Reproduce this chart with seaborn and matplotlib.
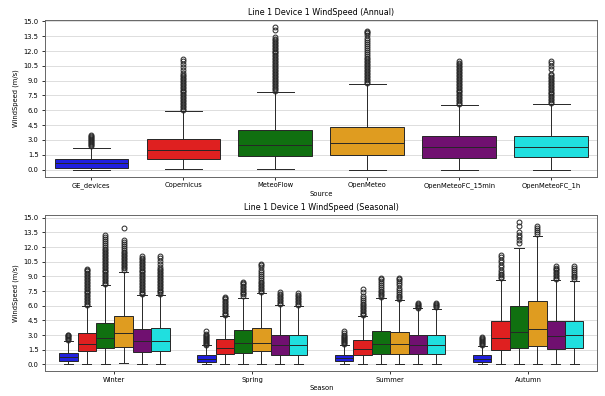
import matplotlib
matplotlib.use("Agg")
import matplotlib.pyplot as plt
import numpy as np
import pandas as pd
import seaborn as sns

SOURCES = ["GE_devices", "Copernicus", "MeteoFlow", "OpenMeteo",
           "OpenMeteoFC_15min", "OpenMeteoFC_1h"]
SEASONS = ["Winter", "Spring", "Summer", "Autumn"]
COLORS = ["blue", "red", "green", "orange", "purple", "cyan"]

# ---- Annual box statistics (m/s), one entry per source ----
annual_whislo = [0.0, 0.05, 0.05, 0.0, 0.0, 0.0]
annual_q1 = [0.2, 1.1, 1.4, 1.45, 1.2, 1.25]
annual_med = [0.68, 1.97, 2.48, 2.7, 2.25, 2.25]
annual_q3 = [1.05, 3.05, 4.0, 4.35, 3.35, 3.4]
annual_whishi = [2.2, 5.9, 7.88, 8.65, 6.55, 6.6]
annual_fliers = [
    [2.4, 2.5, 2.6, 2.7, 2.8, 2.9, 3.0, 3.1, 3.2, 3.3, 3.4, 3.5],
    [6.0, 6.15, 6.3, 6.45, 6.6, 6.75, 6.9, 7.05, 7.2, 7.35, 7.5, 7.65, 7.8,
     7.95, 8.1, 8.25, 8.4, 8.55, 8.7, 8.85, 9.0, 9.15, 9.3, 9.45, 9.6, 9.75,
     10.05, 10.4, 10.7, 10.95, 11.15],
    [8.0, 8.15, 8.3, 8.45, 8.6, 8.75, 8.9, 9.05, 9.2, 9.35, 9.5, 9.65, 9.8,
     9.95, 10.1, 10.25, 10.4, 10.55, 10.7, 10.85, 11.0, 11.15, 11.3, 11.45,
     11.6, 11.75, 11.9, 12.05, 12.2, 12.35, 12.5, 12.65, 12.8, 12.95, 13.1,
     13.25, 13.4, 14.15, 14.4],
    [8.75, 8.9, 9.05, 9.2, 9.35, 9.5, 9.65, 9.8, 9.95, 10.1, 10.25, 10.4,
     10.55, 10.7, 10.85, 11.0, 11.15, 11.3, 11.5, 11.7, 11.9, 12.1, 12.3,
     12.5, 12.7, 12.9, 13.1, 13.3, 13.6, 13.8, 13.95, 14.05],
    [6.6, 6.75, 6.9, 7.05, 7.2, 7.35, 7.5, 7.65, 7.8, 7.95, 8.1, 8.25, 8.4,
     8.55, 8.7, 8.85, 9.0, 9.15, 9.3, 9.45, 9.6, 9.75, 9.9, 10.05, 10.2,
     10.35, 10.5, 10.65, 10.8, 10.95],
    [6.7, 6.85, 7.0, 7.15, 7.3, 7.45, 7.6, 7.75, 7.9, 8.05, 8.2, 8.35, 8.5,
     8.65, 8.8, 8.95, 9.1, 9.25, 9.4, 9.55, 9.7, 10.2, 10.5, 10.8, 11.0],
]

# ---- Seasonal box statistics: rows = seasons, columns = sources ----
seasonal_whislo = [
    [0.0, 0.05, 0.05, 0.1, 0.0, 0.0],
    [0.0, 0.05, 0.05, 0.0, 0.0, 0.0],
    [0.0, 0.05, 0.05, 0.0, 0.0, 0.0],
    [0.0, 0.05, 0.05, 0.0, 0.0, 0.0],
]
seasonal_q1 = [
    [0.3, 1.4, 1.65, 1.75, 1.3, 1.35],
    [0.22, 1.02, 1.15, 1.32, 0.97, 1.0],
    [0.3, 0.92, 1.1, 1.1, 1.1, 1.1],
    [0.28, 1.48, 1.68, 1.92, 1.55, 1.62],
]
seasonal_med = [
    [0.71, 2.1, 2.68, 3.22, 2.37, 2.37],
    [0.5, 1.65, 2.18, 2.18, 1.97, 1.97],
    [0.6, 1.52, 2.04, 2.04, 1.97, 1.97],
    [0.58, 2.68, 3.3, 3.65, 2.9, 2.98],
]
seasonal_q3 = [
    [1.15, 3.25, 4.25, 4.9, 3.62, 3.68],
    [0.92, 2.6, 3.47, 3.72, 3.03, 3.0],
    [1.0, 2.53, 3.4, 3.3, 2.97, 3.0],
    [0.92, 4.4, 5.95, 6.44, 4.4, 4.42],
]
seasonal_whishi = [
    [2.35, 5.98, 8.1, 9.45, 7.05, 7.1],
    [1.95, 4.9, 6.8, 7.3, 6.07, 5.95],
    [2.0, 4.9, 6.75, 6.57, 5.72, 5.65],
    [1.85, 8.66, 11.86, 13.08, 8.6, 8.55],
]
seasonal_fliers = [
    [  # Winter
        [2.45, 2.55, 2.65, 2.75, 2.85, 2.95, 3.05],
        [6.05, 6.2, 6.35, 6.5, 6.65, 6.8, 6.95, 7.1, 7.25, 7.4, 7.55, 7.7,
         7.85, 8.0, 8.15, 8.3, 8.45, 8.6, 8.75, 8.9, 9.05, 9.2, 9.35, 9.5,
         9.65, 9.8],
        [8.2, 8.35, 8.5, 8.65, 8.8, 8.95, 9.1, 9.25, 9.4, 9.55, 9.7, 9.85,
         10.0, 10.15, 10.3, 10.45, 10.6, 10.75, 10.9, 11.05, 11.2, 11.35,
         11.5, 11.65, 11.8, 12.0, 12.2, 12.4, 12.6, 12.85, 13.05, 13.25],
        [9.7, 9.85, 10.0, 10.15, 10.3, 10.45, 10.6, 10.75, 10.9, 11.05, 11.2,
         11.35, 11.5, 11.7, 11.9, 12.1, 12.3, 12.5, 12.7, 13.9],
        [7.15, 7.3, 7.45, 7.6, 7.75, 7.9, 8.05, 8.2, 8.35, 8.5, 8.65, 8.8,
         8.95, 9.1, 9.25, 9.4, 9.55, 9.7, 9.85, 10.0, 10.15, 10.3, 10.45,
         10.6, 10.75, 10.9, 11.05],
        [7.2, 7.35, 7.5, 7.65, 7.8, 7.95, 8.1, 8.25, 8.4, 8.55, 8.7, 8.85,
         9.0, 9.15, 9.3, 9.45, 9.6, 9.75, 10.0, 10.3, 10.6, 10.85, 11.05],
    ],
    [  # Spring
        [2.0, 2.1, 2.2, 2.3, 2.4, 2.5, 2.6, 2.7, 2.8, 2.9, 3.0, 3.15, 3.45],
        [5.0, 5.15, 5.3, 5.45, 5.6, 5.75, 5.9, 6.05, 6.2, 6.35, 6.5, 6.65,
         6.8, 6.9],
        [7.0, 7.15, 7.3, 7.45, 7.6, 7.75, 7.9, 8.05, 8.2, 8.35, 8.45],
        [7.4, 7.55, 7.7, 7.85, 8.0, 8.15, 8.3, 8.45, 8.6, 8.8, 9.0, 9.2,
         9.45, 9.7, 9.95, 10.15, 10.3],
        [6.15, 6.3, 6.45, 6.6, 6.75, 6.9, 7.05, 7.2, 7.35],
        [6.05, 6.2, 6.35, 6.5, 6.65, 6.8, 6.95, 7.1, 7.25],
    ],
    [  # Summer
        [2.1, 2.2, 2.3, 2.4, 2.5, 2.6, 2.7, 2.8, 2.9, 3.0, 3.2, 3.45],
        [5.0, 5.15, 5.3, 5.45, 5.6, 5.75, 5.9, 6.05, 6.2, 6.4, 6.6, 6.8,
         7.0, 7.35, 7.7],
        [6.9, 7.05, 7.2, 7.35, 7.5, 7.7, 7.9, 8.1, 8.3, 8.5, 8.7, 8.85],
        [6.7, 6.85, 7.0, 7.2, 7.4, 7.6, 7.85, 8.1, 8.3, 8.5, 8.7, 8.85],
        [5.8, 5.9, 6.0, 6.1, 6.2, 6.3],
        [5.9, 6.0, 6.1, 6.2, 6.3],
    ],
    [  # Autumn
        [1.95, 2.05, 2.15, 2.25, 2.35, 2.45, 2.55, 2.65, 2.8],
        [8.8, 8.95, 9.1, 9.25, 9.45, 9.7, 9.95, 10.2, 10.45, 10.7, 10.95,
         11.2],
        [12.4, 12.7, 13.0, 13.2, 13.55, 14.2, 14.55],
        [13.35, 13.55, 13.75, 13.95, 14.1],
        [8.7, 8.85, 9.0, 9.15, 9.3, 9.45, 9.6, 9.75, 9.9, 10.05],
        [8.75, 8.9, 9.05, 9.2, 9.4, 9.6, 9.85, 10.1],
    ],
]


def box_sample(lo, q1, med, q3, hi, fliers):
    """Values whose quartiles, whisker ends and outliers are the given ones."""
    return [lo] + [q1] * 100 + [med] * 100 + [q3] * 100 + [hi] + list(fliers)


annual_rows = []
for i, src in enumerate(SOURCES):
    vals = box_sample(annual_whislo[i], annual_q1[i], annual_med[i],
                      annual_q3[i], annual_whishi[i], annual_fliers[i])
    annual_rows += [(src, v) for v in vals]
annual_df = pd.DataFrame(annual_rows, columns=["Source", "WindSpeed"])

seasonal_rows = []
for s, season in enumerate(SEASONS):
    for i, src in enumerate(SOURCES):
        vals = box_sample(seasonal_whislo[s][i], seasonal_q1[s][i],
                          seasonal_med[s][i], seasonal_q3[s][i],
                          seasonal_whishi[s][i], seasonal_fliers[s][i])
        seasonal_rows += [(season, src, v) for v in vals]
seasonal_df = pd.DataFrame(seasonal_rows,
                           columns=["Season", "Source", "WindSpeed"])

plt.rcParams.update({"font.size": 6.9, "axes.titlesize": 8.2,
                     "xtick.major.pad": 2.5})
fig, (ax1, ax2) = plt.subplots(2, 1, figsize=(605 / 70, 396 / 70), dpi=70)
fig.subplots_adjust(left=0.075, right=0.987, top=0.949, bottom=0.062,
                    hspace=0.245)

box_kw = dict(linewidth=1.0, fliersize=5)

sns.boxplot(data=annual_df, x="Source", y="WindSpeed", hue="Source",
            order=SOURCES, hue_order=SOURCES, palette=COLORS,
            legend=False, ax=ax1, **box_kw)
ax1.set_title("Line 1 Device 1 WindSpeed (Annual)", pad=5)
ax1.set_xlabel("Source", labelpad=2)
ax1.set_ylabel("WindSpeed (m/s)", labelpad=5)

sns.boxplot(data=seasonal_df, x="Season", y="WindSpeed", hue="Source",
            order=SEASONS, hue_order=SOURCES, palette=COLORS,
            legend=False, ax=ax2, **box_kw)
ax2.set_title("Line 1 Device 1 WindSpeed (Seasonal)", pad=5)
ax2.set_xlabel("Season", labelpad=2)
ax2.set_ylabel("WindSpeed (m/s)", labelpad=5)

for ax in (ax1, ax2):
    ax.set_yticks(np.arange(0, 15.01, 1.5))
    ax.yaxis.grid(True, color="#dddddd", linewidth=1.0)
    ax.set_axisbelow(True)
    for sp in ax.spines.values():
        sp.set_color("#666666")
        sp.set_linewidth(1.0)

fig.savefig("out.png", dpi=70)
